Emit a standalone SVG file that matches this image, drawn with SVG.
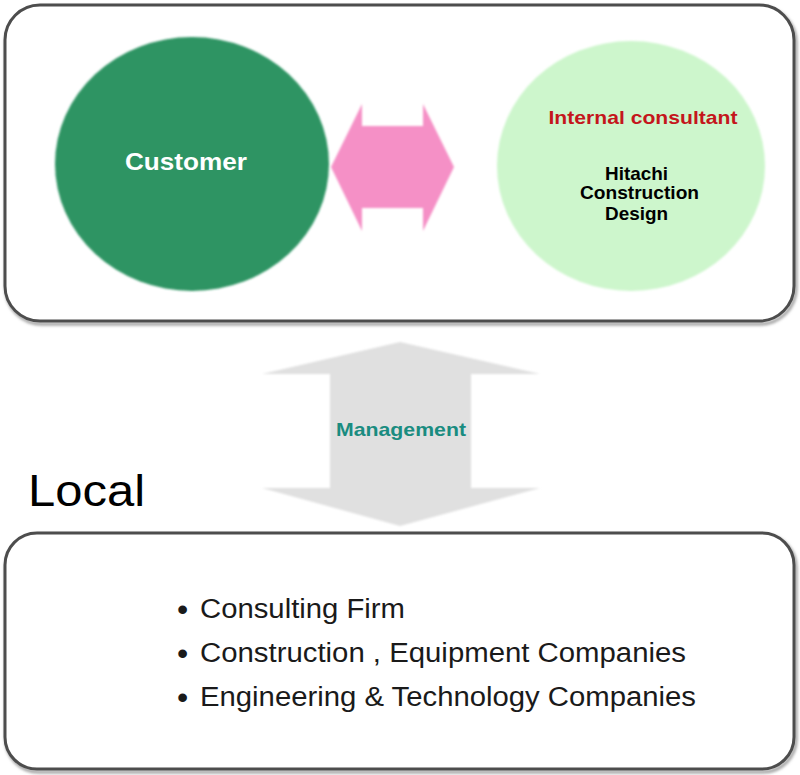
<svg xmlns="http://www.w3.org/2000/svg" width="800" height="775" viewBox="0 0 800 775">
<defs>
<style>
.box{fill:#ffffff;stroke:#4d4d4d;stroke-width:3}
.b{font-family:"Liberation Sans",Arial,sans-serif;font-weight:bold;text-anchor:middle}
.r{font-family:"Liberation Sans",Arial,sans-serif;fill:#1a1a1a}
.dot{font-family:"Liberation Sans",Arial,sans-serif;fill:#1a1a1a;font-size:32px;text-anchor:middle}
</style>
<filter id="soft" x="-5%" y="-5%" width="110%" height="110%"><feGaussianBlur stdDeviation="1.2"/></filter>
<filter id="shadow" x="-2%" y="-2%" width="104%" height="106%"><feGaussianBlur stdDeviation="1.5"/></filter>
</defs>
<rect width="800" height="775" fill="#ffffff"/>

<g id="top-box">
<rect x="6" y="7" width="790" height="317" rx="36" fill="none" stroke="#999" stroke-width="3" filter="url(#shadow)"/>
<rect class="box" x="5" y="5" width="789" height="316" rx="35"/>
</g>

<g id="customer">
<ellipse cx="192" cy="164" rx="137" ry="127" fill="#2e9463" filter="url(#soft)"/>
<text class="b" x="186" y="170" font-size="24" fill="#ffffff" textLength="122" lengthAdjust="spacingAndGlyphs">Customer</text>
</g>

<g id="internal-consultant">
<ellipse cx="631" cy="166" rx="134" ry="125" fill="#cdf6cc" filter="url(#soft)"/>
<text class="b" x="643" y="124" font-size="18.5" fill="#c4161c" textLength="189" lengthAdjust="spacingAndGlyphs">Internal consultant</text>
<text class="b" x="636.5" y="180" font-size="18.5" fill="#000000" textLength="63" lengthAdjust="spacingAndGlyphs">Hitachi</text>
<text class="b" x="639.5" y="199" font-size="18.5" fill="#000000" textLength="119" lengthAdjust="spacingAndGlyphs">Construction</text>
<text class="b" x="636.5" y="220" font-size="18.5" fill="#000000" textLength="63" lengthAdjust="spacingAndGlyphs">Design</text>
</g>

<g id="connectors">
<polygon points="331,167 362,104 362,126 423,126 423,104 454,167 423,231 423,208 362,208 362,231" fill="#f590c6" filter="url(#soft)"/>
<polygon points="400,342 540,374 471,374 471,488 540,488 400,526 262,488 330,488 330,374 262,374" fill="#e0e0e0" filter="url(#soft)"/>
</g>

<g id="management">
<text class="b" x="401" y="436" font-size="18.5" fill="#1a8c80" textLength="130" lengthAdjust="spacingAndGlyphs">Management</text>
</g>

<g id="local-label">
<text x="28" y="506" font-family="'Liberation Sans',Arial,sans-serif" font-size="44" fill="#000000" textLength="117" lengthAdjust="spacingAndGlyphs">Local</text>
</g>

<g id="local-box">
<rect x="6" y="535" width="790" height="237" rx="33" fill="none" stroke="#999" stroke-width="3" filter="url(#shadow)"/>
<rect class="box" x="5" y="533" width="789" height="236" rx="32"/>
<text class="dot" x="182.5" y="620">•</text>
<text class="r" x="200" y="618" font-size="27" textLength="205" lengthAdjust="spacingAndGlyphs">Consulting Firm</text>
<text class="dot" x="182.5" y="664">•</text>
<text class="r" x="200" y="662" font-size="27" textLength="486" lengthAdjust="spacingAndGlyphs">Construction , Equipment Companies</text>
<text class="dot" x="182.5" y="708">•</text>
<text class="r" x="200" y="706" font-size="27" textLength="496" lengthAdjust="spacingAndGlyphs">Engineering &amp; Technology Companies</text>
</g>
</svg>
